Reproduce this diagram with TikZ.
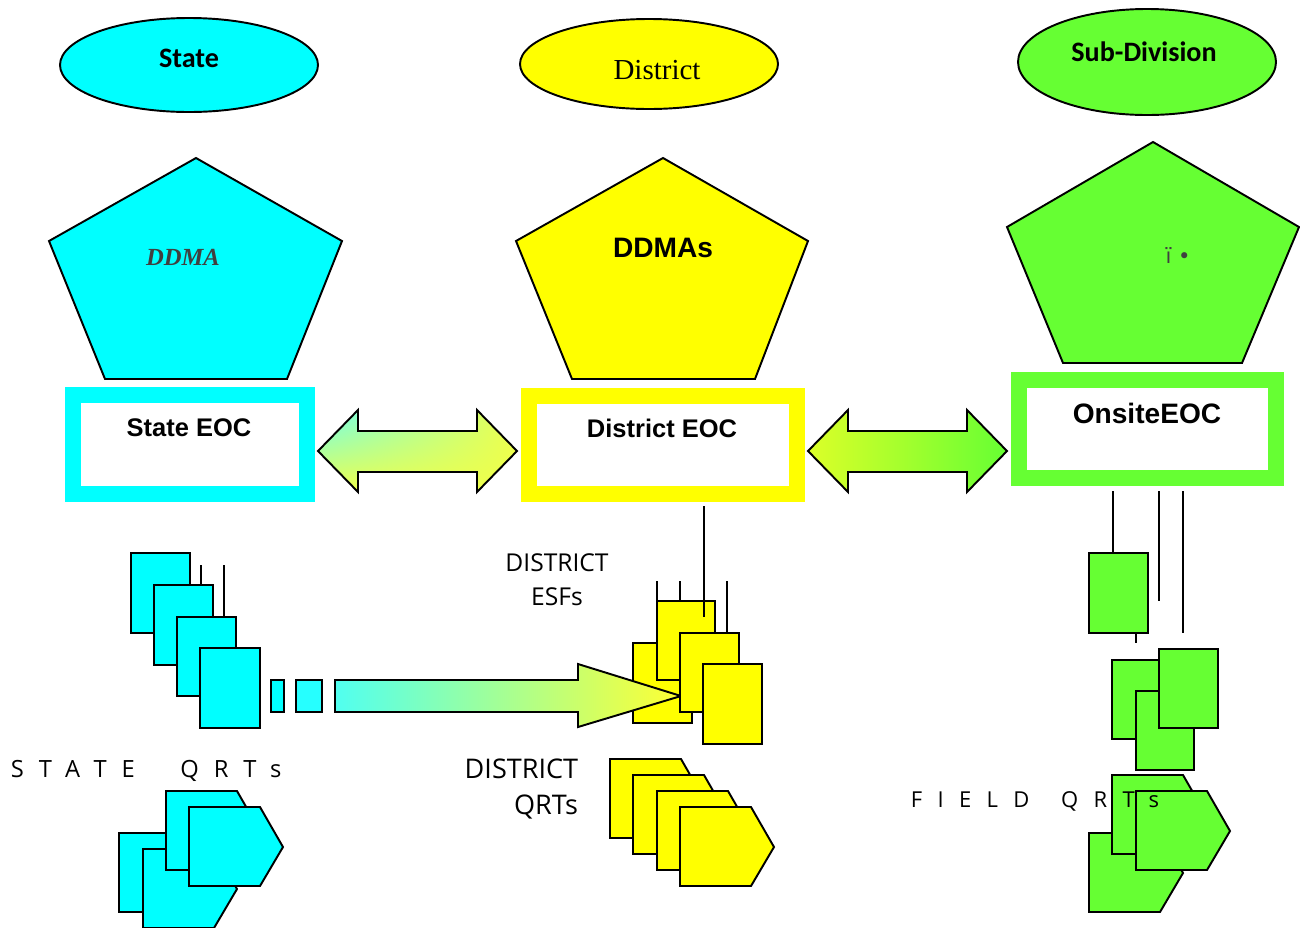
\documentclass[tikz,border=0pt]{standalone}
\usepackage{fontspec}
\usetikzlibrary{shadings}
\setmainfont{Liberation Sans}
\newfontfamily\calibrifont{Carlito}
\newfontfamily\timesfont{Liberation Serif}
\newfontfamily\lucidafont{Open Sans}
\newfontfamily\spacedfont[LetterSpace=63]{Open Sans}
\newfontfamily\widefont[LetterSpace=70]{Open Sans}
\newfontfamily\symbfont{DejaVu Sans}

\definecolor{stcyan}{RGB}{0,255,255}
\definecolor{dtyellow}{RGB}{255,255,0}
\definecolor{sdgreen}{RGB}{102,255,51}
\definecolor{ddmagray}{RGB}{64,64,64}
\definecolor{palecyan}{RGB}{110,255,240}
\definecolor{paleyellow}{RGB}{238,255,75}
\definecolor{limeyellow}{RGB}{220,255,40}
\definecolor{mintcyan}{RGB}{80,255,240}
\definecolor{palegreen}{RGB}{205,255,165}
\definecolor{tipyellow}{RGB}{255,255,50}

\tikzset{
  box/.style={draw=black, line width=1.1pt},
  eocframe/.style={line width=0.31cm, fill=white},
}

\begin{document}
\begin{tikzpicture}[x=0.02cm, y=-0.02cm, line width=1pt]
\useasboundingbox (0,0) rectangle (1300,927);

    % levels
    \draw[box, fill=stcyan] (189,65) ellipse [x radius=129, y radius=47];
    \draw[box, fill=dtyellow] (649,64) ellipse [x radius=129, y radius=45];
    \draw[box, fill=sdgreen] (1147,62) ellipse [x radius=129, y radius=53];
\node[font=\calibrifont\bfseries\fontsize{16}{19}\selectfont] (state) at (189,58) {State};
\node[font=\timesfont\fontsize{16.5}{19}\selectfont] (district) at (657,70) {District};
\node[font=\calibrifont\bfseries\fontsize{16}{19}\selectfont] (subdiv) at (1144,52) {Sub-Division};

    % authorities
    \draw[box, fill=stcyan] (196,158) -- (342,241) -- (287,379) -- (105,379) -- (49,241) -- cycle;
    \draw[box, fill=dtyellow] (663,158) -- (808,241) -- (755,379) -- (572,379) -- (516,241) -- cycle;
    \draw[box, fill=sdgreen] (1153,142) -- (1299,227) -- (1242,363) -- (1063,363) -- (1007,227) -- cycle;
\node[font=\timesfont\bfseries\itshape\fontsize{14}{16}\selectfont, text=ddmagray] (ddma) at (183,257) {DDMA};
\node[font=\bfseries\fontsize{16}{19}\selectfont] (ddmas) at (663,248) {DDMAs};
\node[font=\symbfont\fontsize{12}{14}\selectfont, text=ddmagray] (sdma) at (1178,256) {ï •};

    % operation centres
    \draw[eocframe, draw=stcyan] (73,395) rectangle (307,494);
    \draw[eocframe, draw=dtyellow] (529,396) rectangle (797,494);
    \draw[eocframe, draw=sdgreen] (1019,380) rectangle (1276,478);
\node[font=\bfseries\fontsize{14.5}{17}\selectfont] (seoc) at (189,428) {State EOC};
\node[font=\bfseries\fontsize{14.5}{17}\selectfont] (deoc) at (662,428) {District EOC};
\node[font=\bfseries\fontsize{16}{19}\selectfont] (oeoc) at (1147,413) {OnsiteEOC};

    \shadedraw[box, upper left=palecyan, lower left=paleyellow, upper right=paleyellow, lower right=paleyellow]
      (318,451) -- (358,410) -- (358,431) -- (477,431) -- (477,410) -- (517,451)
      -- (477,492) -- (477,472) -- (358,472) -- (358,492) -- cycle;
    \shadedraw[box, left color=limeyellow, right color=sdgreen]
      (808,451) -- (848,410) -- (848,431) -- (967,431) -- (967,410) -- (1007,451)
      -- (967,492) -- (967,472) -- (848,472) -- (848,492) -- cycle;

    % state ESFs
    \draw (201,565) -- (201,585);
    \draw (224,565) -- (224,617);
    \draw[box, fill=stcyan] (131,553) rectangle (190,633);
    \draw[box, fill=stcyan] (154,585) rectangle (213,665);
    \draw[box, fill=stcyan] (177,617) rectangle (236,696);
    \draw[box, fill=stcyan] (200,648) rectangle (260,728);
    \draw[box, fill=stcyan] (271,680) rectangle (284,712);
    \draw[box, fill=stcyan!85!white] (296,680) rectangle (322,712);

    % district ESFs
    \draw (657,581) -- (657,601);
    \draw (680,581) -- (680,601);
    \draw (727,581) -- (727,633);
    \draw[box, fill=dtyellow] (633,643) rectangle (692,723);
    \draw[box, fill=dtyellow] (657,601) rectangle (715,680);
    \draw (704,506) -- (704,617);
    \shadedraw[box, left color=mintcyan, middle color=palegreen, right color=tipyellow]
      (335,680) -- (578,680) -- (578,664) -- (681,696) -- (578,727) -- (578,712) -- (335,712) -- cycle;
    \draw[box, fill=dtyellow] (680,633) rectangle (739,712);
    \draw[box, fill=dtyellow] (703,664) rectangle (762,744);
\node[font=\lucidafont\fontsize{14}{19.4}\selectfont, align=center] (desf) at (557,580) {DISTRICT\\ESFs};

    % field ESFs
    \draw (1113,491) -- (1113,553);
    \draw (1159,491) -- (1159,601);
    \draw (1183,491) -- (1183,633);
    \draw (1136,633) -- (1136,643);
    \draw[box, fill=sdgreen] (1089,553) rectangle (1148,633);
    \draw[box, fill=sdgreen] (1112,660) rectangle (1171,739);
    \draw[box, fill=sdgreen] (1136,691) rectangle (1194,770);
    \draw[box, fill=sdgreen] (1159,649) rectangle (1218,728);

    % QRTs
    \draw[box, fill=stcyan] (119,833) -- +(71,0) -- +(94,40) -- +(71,79) -- +(0,79) -- cycle;
    \draw[box, fill=stcyan] (143,849) -- +(71,0) -- +(94,40) -- +(71,79) -- +(0,79) -- cycle;
    \draw[box, fill=stcyan] (166,791) -- +(71,0) -- +(94,40) -- +(71,79) -- +(0,79) -- cycle;
    \draw[box, fill=stcyan] (189,807) -- +(71,0) -- +(94,40) -- +(71,79) -- +(0,79) -- cycle;

    \draw[box, fill=dtyellow] (610,759) -- +(71,0) -- +(94,40) -- +(71,79) -- +(0,79) -- cycle;
    \draw[box, fill=dtyellow] (633,775) -- +(71,0) -- +(94,40) -- +(71,79) -- +(0,79) -- cycle;
    \draw[box, fill=dtyellow] (657,791) -- +(71,0) -- +(94,40) -- +(71,79) -- +(0,79) -- cycle;
    \draw[box, fill=dtyellow] (680,807) -- +(71,0) -- +(94,40) -- +(71,79) -- +(0,79) -- cycle;

    \draw[box, fill=sdgreen] (1089,833) -- +(71,0) -- +(94,40) -- +(71,79) -- +(0,79) -- cycle;
    \draw[box, fill=sdgreen] (1112,775) -- +(71,0) -- +(94,40) -- +(71,79) -- +(0,79) -- cycle;
    \draw[box, fill=sdgreen] (1136,791) -- +(71,0) -- +(94,40) -- +(71,79) -- +(0,79) -- cycle;

\node[font=\spacedfont\fontsize{13.5}{16}\selectfont, anchor=west, inner sep=0] (stqrt) at (10,771) {STATE\hspace{26pt}QRTs};
\node[font=\lucidafont\fontsize{15.4}{20}\selectfont, align=right, anchor=east, inner sep=0] (dtqrt) at (579,789) {DISTRICT\\QRTs};
\node[font=\widefont\fontsize{12.5}{14}\selectfont, anchor=west, inner sep=0] (fdqrt) at (910,801) {FIELD\hspace{18pt}QRTs};
\end{tikzpicture}
\end{document}
